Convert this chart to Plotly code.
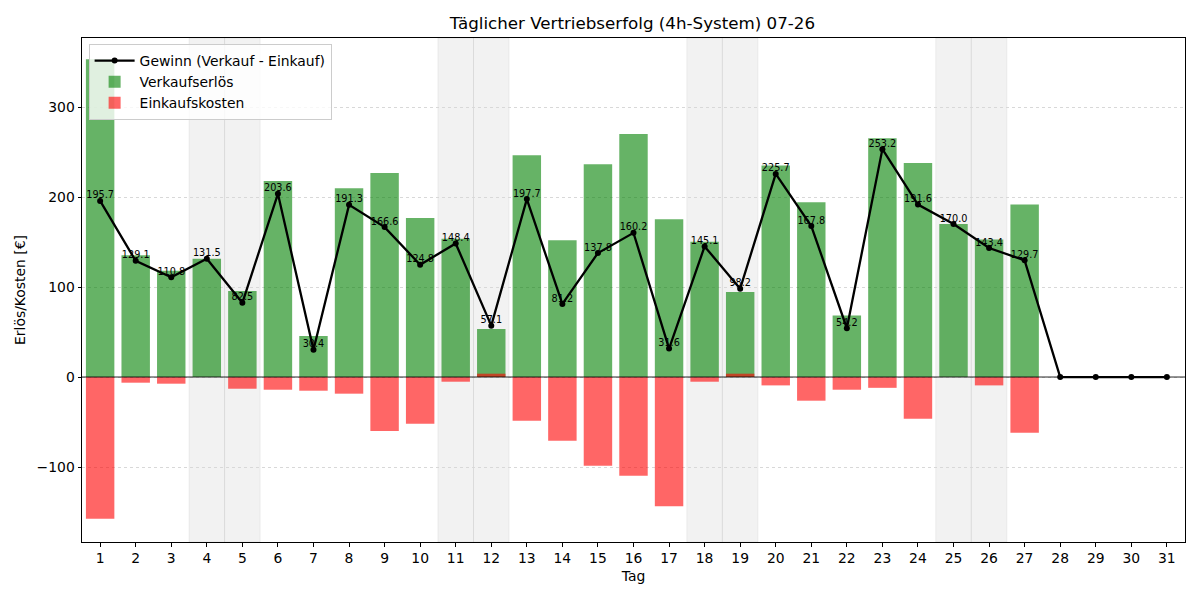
import plotly.graph_objects as go

# ---- data ----
tage = list(range(1, 32))
gewinn = [195.7, 129.1, 110.8, 131.5, 82.5, 203.6, 30.4, 191.3, 166.6, 124.8,
          148.4, 57.1, 197.7, 81.2, 137.8, 160.2, 31.6, 145.1, 98.2, 225.7,
          167.8, 54.2, 253.2, 191.6, 170.0, 143.4, 129.7, 0, 0, 0, 0]
einkauf = [157.4, 6.3, 7.4, 0, 13.0, 14.1, 15.2, 18.5, 60.0, 51.9,
           5.2, -3.7, 48.6, 70.8, 98.6, 109.7, 143.7, 5.2, -3.7, 9.3,
           26.3, 14.1, 12.0, 46.3, 0, 9.3, 61.9, 0, 0, 0, 0]
verkauf = [round(g + e, 1) for g, e in zip(gewinn, einkauf)]
wochenende = [4, 5, 11, 12, 18, 19, 25, 26]
ytick_vals = [-100, 0, 100, 200, 300]
ytick_text = ["\u2212100", "0", "100", "200", "300"]

FONT = "DejaVu Sans"

fig = go.Figure()

fig.add_trace(go.Bar(
    x=tage, y=verkauf, width=0.8, name="Verkaufserlös",
    marker=dict(color="rgba(0,128,0,0.6)", line=dict(width=0)),
    legendrank=2, hoverinfo="skip",
))
fig.add_trace(go.Bar(
    x=tage, y=[-e for e in einkauf], width=0.8, name="Einkaufskosten",
    marker=dict(color="rgba(255,0,0,0.6)", line=dict(width=0)),
    legendrank=3, hoverinfo="skip",
))
fig.add_trace(go.Scatter(
    x=tage, y=gewinn, mode="lines+markers", name="Gewinn (Verkauf - Einkauf)",
    line=dict(color="black", width=2.3), marker=dict(color="black", size=6),
    legendrank=1,
))
fig.add_trace(go.Scatter(
    x=tage, y=gewinn, mode="text",
    text=[f"{g:.1f}" if g != 0 else "" for g in gewinn],
    textposition="top center",
    textfont=dict(family=FONT, size=9.7, color="black"),
    showlegend=False, hoverinfo="skip",
))

shapes = []
for d in wochenende:
    shapes.append(dict(
        type="rect", xref="x", yref="paper", x0=d - 0.5, x1=d + 0.5, y0=0, y1=1,
        fillcolor="rgba(128,128,128,0.1)",
        line=dict(color="rgba(128,128,128,0.1)", width=1), layer="below",
    ))
shapes.append(dict(
    type="line", xref="paper", yref="y", x0=0, x1=1, y0=0, y1=0,
    line=dict(color="rgba(0,0,0,0.85)", width=1), layer="above",
))

fig.update_layout(
    width=1200, height=600,
    margin=dict(l=82, r=15, t=38, b=58),
    paper_bgcolor="white", plot_bgcolor="white",
    barmode="overlay",
    font=dict(family=FONT, size=13.9, color="black"),
    title=dict(text="Täglicher Vertriebserfolg (4h-System) 07-26",
               x=0.527, xanchor="center", y=0.962, yanchor="middle",
               font=dict(family=FONT, size=16.7, color="black")),
    shapes=shapes,
    showlegend=True,
    legend=dict(x=0.006, y=0.988, xanchor="left", yanchor="top",
                bgcolor="rgba(255,255,255,0.8)", bordercolor="#cccccc",
                borderwidth=1, font=dict(family=FONT, size=13.9),
                tracegroupgap=0, itemwidth=40),
)
fig.update_xaxes(
    range=[0.49, 31.51], tickmode="array", tickvals=tage,
    ticktext=[str(t) for t in tage],
    showgrid=False, zeroline=False,
    showline=True, mirror=True, linecolor="black", linewidth=1,
    ticks="outside", ticklen=3.5, tickwidth=0.8, tickcolor="black",
    title=dict(text="Tag", standoff=6, font=dict(family=FONT, size=13.9)),
    automargin=False,
)
fig.update_yaxes(
    range=[-183.3, 376.7], tickmode="array", tickvals=ytick_vals, ticktext=ytick_text,
    showgrid=True, gridcolor="#d8d8d8", griddash="dot", gridwidth=1,
    zeroline=False,
    showline=True, mirror=True, linecolor="black", linewidth=1,
    ticks="outside", ticklen=3.5, tickwidth=0.8, tickcolor="black",
    title=dict(text="Erlös/Kosten [€]", standoff=7, font=dict(family=FONT, size=13.9)),
    automargin=False,
)

fig.write_html("out.html")
